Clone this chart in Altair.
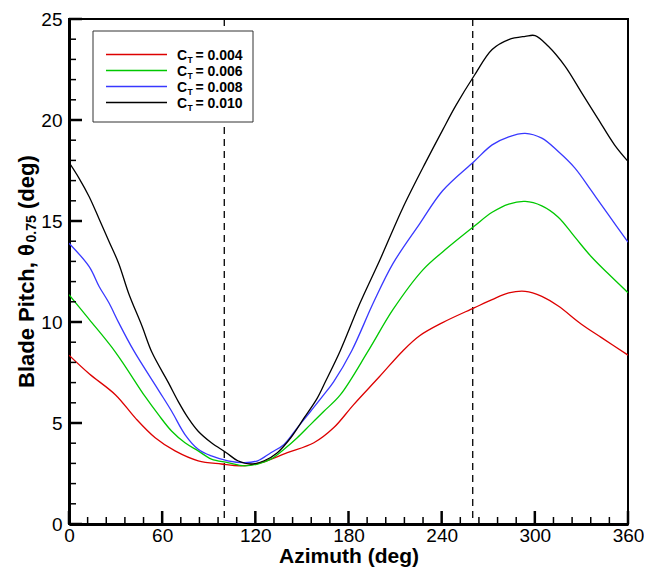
import altair as alt
import pandas as pd

# ---- data ----
ct_labels = ["0.004", "0.006", "0.008", "0.010"]
ct_colors = ["#DD0000", "#00C800", "#3838FF", "#000000"]

az_004 = [0, 13, 30, 42.8, 55.5, 68.3, 83.2, 98.1, 110.9, 123.6, 140.6, 157.7, 170.4,
          183.2, 200, 215.1, 225.8, 240.6, 260.9, 272.5, 283.2, 293.8, 304.5, 315.1,
          330, 342.7, 360]
th_004 = [8.36, 7.44, 6.39, 5.24, 4.27, 3.62, 3.13, 2.97, 2.88, 3.04, 3.53, 4.02, 4.76,
          5.90, 7.3, 8.58, 9.32, 9.97, 10.7, 11.11, 11.44, 11.52, 11.27, 10.79,
          9.89, 9.24, 8.36]

az_006 = [0, 13, 30, 49.1, 57.6, 66.2, 74.7, 83.2, 91.7, 102.3, 113, 121.5, 130, 138.5,
          147, 155.5, 164, 174.7, 192.8, 208.7, 227.9, 240.6, 260.9, 272.5, 283.2,
          293.8, 304.5, 315.1, 325.7, 336.4, 347, 360]
th_006 = [11.35, 10.13, 8.5, 6.30, 5.41, 4.59, 4.02, 3.62, 3.21, 3.04, 2.88, 2.97, 3.21,
          3.70, 4.27, 4.92, 5.57, 6.39, 8.58, 10.62, 12.58, 13.47, 14.74, 15.43, 15.84,
          15.97, 15.75, 15.19, 14.21, 13.23, 12.41, 11.45]

az_008 = [0, 13, 19.4, 25.7, 32, 41.7, 57.6, 66.2, 74.7, 83.2, 91.7, 102.3, 113, 121.5,
          130, 138.5, 147, 155.5, 164, 170.4, 182.1, 196, 208.7, 225.8, 240.6, 260.9,
          272.5, 283.2, 293.8, 304.5, 315.1, 325.7, 336.4, 347, 360]
th_008 = [13.9, 12.74, 11.76, 10.95, 9.97, 8.58, 6.63, 5.57, 4.43, 3.70, 3.37, 3.13, 3.04,
          3.13, 3.53, 3.94, 4.76, 5.57, 6.39, 7.04, 8.58, 10.95, 12.9, 14.86, 16.5, 17.95,
          18.77, 19.17, 19.34, 19.1, 18.44, 17.63, 16.5, 15.35, 13.95]

az_010 = [0, 6.6, 13, 19.4, 25.7, 32, 38.5, 47, 53.4, 64, 70.4, 76.8, 83.2, 91.7, 101.3,
          108.7, 117.2, 125.7, 134.2, 142.8, 151.3, 159.8, 165.1, 174.7, 187.5, 200.2,
          215.1, 230, 240.6, 249, 260.9, 272.5, 283.2, 293.8, 300.2, 308.7, 319.3, 330,
          340.6, 351.3, 360]
th_010 = [17.9, 17.1, 16.2, 15.1, 14.0, 12.9, 11.4, 9.8, 8.5, 7.0, 6.06, 5.24, 4.59, 4.02,
          3.53, 3.13, 2.97, 3.13, 3.53, 4.27, 5.24, 6.22, 7.04, 8.58, 10.95, 13.07,
          15.67, 17.95, 19.5, 20.7, 22.19, 23.49, 23.98, 24.14, 24.18, 23.65, 22.68, 21.37,
          20.07, 18.77, 17.95]

vlines = [100, 260]
x_major = [0, 60, 120, 180, 240, 300, 360]
x_minor = [v for v in range(0, 361, 12) if v % 60 != 0]
y_major = [0, 5, 10, 15, 20, 25]
y_minor = [v for v in range(0, 26) if v % 5 != 0]

series = [("0.004", az_004, th_004), ("0.006", az_006, th_006),
          ("0.008", az_008, th_008), ("0.010", az_010, th_010)]
rows = []
for i, (ct, azs, ths) in enumerate(series):
    for a, t in zip(azs, ths):
        rows.append({"ct": ct, "az": a, "theta": t, "k": i})
df = pd.DataFrame(rows)

W, H = 559, 505
TOP = 11
LEFT = 61
RIGHT = 16
BOTTOM = 45
OX = 8 + LEFT     # page x of plot left
OY = 8 + TOP      # page y of plot top
FONT = "Liberation Sans"
xs = alt.Scale(domain=[0, 360], nice=False, zero=False)
ys = alt.Scale(domain=[0, 25], nice=False, zero=False)

lines = alt.Chart(df).mark_line(strokeWidth=1.3, interpolate="catmull-rom", clip=True).encode(
    x=alt.X("az:Q", scale=xs,
            axis=alt.Axis(values=x_major, ticks=False, grid=False, domainColor="black",
                          domainWidth=3, labelFontSize=19, labelFont=FONT, labelColor="black",
                          labelPadding=2, labelFlush=False, labelOverlap=False,
                          title="Azimuth (deg)", titleFont=FONT,
                          titleFontSize=21, titleFontWeight="bold", titleColor="black",
                          titlePadding=0)),
    y=alt.Y("theta:Q", scale=ys,
            axis=alt.Axis(values=y_major, ticks=False, grid=False, domainColor="black",
                          domainWidth=3, labelFontSize=19, labelFont=FONT, labelColor="black",
                          labelPadding=7, labelFlush=False, labelOverlap=False, title=None)),
    color=alt.Color("ct:N", scale=alt.Scale(domain=ct_labels, range=ct_colors), legend=None),
    order=alt.Order("k:Q"),
)

vl = alt.Chart(pd.DataFrame({"az": vlines})).mark_rule(
    strokeDash=[7, 5], strokeWidth=1.3, color="black").encode(x=alt.X("az:Q", scale=xs))

# inward ticks
ymaj = alt.Chart(pd.DataFrame({"v": y_major})).mark_rule(strokeWidth=2.5, color="black").encode(
    y=alt.Y("v:Q", scale=ys), x=alt.value(0), x2=alt.value(13))
ymin = alt.Chart(pd.DataFrame({"v": y_minor})).mark_rule(strokeWidth=1.5, color="black").encode(
    y=alt.Y("v:Q", scale=ys), x=alt.value(0), x2=alt.value(7))
xmaj = alt.Chart(pd.DataFrame({"v": x_major})).mark_rule(strokeWidth=2.5, color="black").encode(
    x=alt.X("v:Q", scale=xs), y=alt.value(H), y2=alt.value(H - 13))
xmin = alt.Chart(pd.DataFrame({"v": x_minor})).mark_rule(strokeWidth=1.5, color="black").encode(
    x=alt.X("v:Q", scale=xs), y=alt.value(H), y2=alt.value(H - 7))

# legend (reference page coords minus plot origin)
one = pd.DataFrame({"a": [0]})
box = alt.Chart(one).mark_rect(fill="white", stroke="#333333", strokeWidth=1).encode(
    x=alt.value(93 - OX), x2=alt.value(253 - OX), y=alt.value(31 - OY), y2=alt.value(122 - OY))
leg_y = [54.5 - OY, 70.5 - OY, 86.5 - OY, 102.5 - OY]
leg_layers = [box]
for lab, col, yy in zip(ct_labels, ct_colors, leg_y):
    leg_layers.append(alt.Chart(one).mark_rule(color=col, strokeWidth=1.5).encode(
        x=alt.value(106 - OX), x2=alt.value(167 - OX), y=alt.value(yy)))
    leg_layers.append(alt.Chart(one).mark_text(
        text="C", font=FONT, fontSize=14, fontWeight="bold", align="left",
        baseline="middle", color="black").encode(x=alt.value(177 - OX), y=alt.value(yy + 1)))
    leg_layers.append(alt.Chart(one).mark_text(
        text="T", font=FONT, fontSize=8.5, fontWeight="bold", align="left",
        baseline="middle", color="black").encode(x=alt.value(187.5 - OX), y=alt.value(yy + 5)))
    leg_layers.append(alt.Chart(one).mark_text(
        text="= " + lab, font=FONT, fontSize=14, fontWeight="bold", align="left",
        baseline="middle", color="black").encode(x=alt.value(195.5 - OX), y=alt.value(yy + 1)))

# y title with subscript (rotated)
w1, w2, gap = 145.5, 27.5, 6
total = w1 + w2 + gap + 54
yt_start = H / 2 + total / 2
TX = 27 - OX
ytitle = [
    alt.Chart(one).mark_text(
        text="Blade Pitch, θ", font=FONT, fontSize=22, fontWeight="bold", angle=270,
        align="left", baseline="middle", color="black").encode(
        x=alt.value(TX), y=alt.value(yt_start)),
    alt.Chart(one).mark_text(
        text="0.75", font=FONT, fontSize=14, fontWeight="bold", angle=270,
        align="left", baseline="middle", color="black").encode(
        x=alt.value(TX + 5), y=alt.value(yt_start - w1)),
    alt.Chart(one).mark_text(
        text="(deg)", font=FONT, fontSize=22, fontWeight="bold", angle=270,
        align="left", baseline="middle", color="black").encode(
        x=alt.value(TX), y=alt.value(yt_start - w1 - w2 - gap)),
]

chart = alt.layer(vl, lines, ymaj, ymin, xmaj, xmin, *leg_layers, *ytitle).properties(
    width=W, height=H,
    autosize=alt.AutoSizeParams(type="none"),
    padding={"left": LEFT, "top": TOP, "right": RIGHT, "bottom": BOTTOM},
).configure_view(stroke="black", strokeWidth=2)

chart.save("out.html", embed_options={"renderer": "svg", "actions": False})
